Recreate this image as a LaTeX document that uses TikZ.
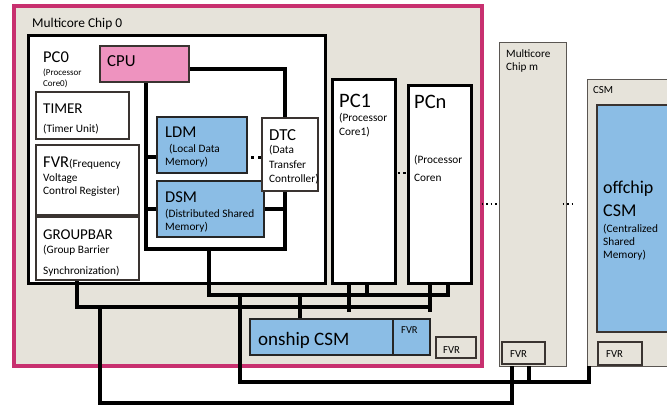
\documentclass[tikz,border=0pt]{standalone}
\usepackage{fontspec}
\setmainfont{Carlito}
\pgfdeclarelayer{back}
\pgfdeclarelayer{wires}
\pgfsetlayers{back,wires,main}
\definecolor{beige}{HTML}{E6E3DA}
\definecolor{chippink}{HTML}{C8306F}
\definecolor{cpupink}{HTML}{EE93BF}
\definecolor{memblue}{HTML}{8BBDE5}
\definecolor{edge}{HTML}{3A3431}
\definecolor{thingray}{HTML}{5A5652}
\newcommand\fsz[1]{\fontsize{#1}{#1}\selectfont}
\begin{document}
\begin{tikzpicture}[x=1pt,y=-1pt,
  bx/.style={inner sep=0pt, outer sep=0pt, anchor=north west},
  corebox/.style={bx, draw=black, line width=3pt, fill=white},
  thinbox/.style={bx, draw=edge, line width=1.2pt, fill=white},
  membox/.style={bx, draw=black!85, line width=1.2pt, fill=memblue},
  fvrbox/.style={bx, draw=edge, line width=1.6pt, fill=beige},
  chipbox/.style={bx, draw=thingray, line width=0.9pt, fill=beige},
  lbl/.style={inner sep=0pt, anchor=base west, text=black},
  bigtxt/.style={lbl, font=\fsz{16.5}},
  smtxt/.style={lbl, font=\fsz{11.3}},
  bus/.style={line width=3.5pt, black},
]
\useasboundingbox (0,0) rectangle (667,407);

% ---------- back layer: outer boxes ----------
\begin{pgfonlayer}{back}
\node[bx, draw=chippink, line width=4pt, fill=beige, minimum width=468pt, minimum height=359.5pt] (chip0) at (14,6) {};
\node[corebox, minimum width=297pt, minimum height=248.5pt] (pc0) at (28.5,35) {};
\node[corebox, minimum width=63pt, minimum height=204pt] (pc1) at (332.5,79.5) {};
\node[corebox, minimum width=63.5pt, minimum height=198.5pt] (pcn) at (408,85) {};
\node[chipbox, minimum width=67.5pt, minimum height=323.5pt] (chipm) at (499,42.5) {};
\node[chipbox, minimum width=100pt, minimum height=287pt] (csm) at (587,79) {};
\end{pgfonlayer}

% ---------- main layer: inner boxes ----------
\node[bx, draw=edge, line width=1.2pt, fill=cpupink, minimum width=89pt, minimum height=36pt] (cpu) at (100,46) {};
\node[thinbox, minimum width=93pt, minimum height=47pt] (timer) at (36,92) {};
\node[thinbox, minimum width=103pt, minimum height=70pt] (fvr) at (36,145) {};
\node[thinbox, minimum width=103pt, minimum height=63pt] (groupbar) at (36,217) {};
\node[membox, minimum width=90pt, minimum height=56pt] (ldm) at (157,117) {};
\node[membox, minimum width=107pt, minimum height=56pt] (dsm) at (157,181) {};
\node[thinbox, minimum width=56pt, minimum height=73pt] (dtc) at (262,118) {};
\node[membox, minimum width=143pt, minimum height=36pt] (onship) at (250,319) {};
\node[membox, minimum width=37pt, minimum height=36pt] (onfvr) at (393,319) {};
\node[fvrbox, minimum width=40pt, minimum height=21pt] (fvrzero) at (436,337) {};
\node[fvrbox, minimum width=43pt, minimum height=22pt] (fvrm) at (502,342) {};
\node[membox, draw=edge, minimum width=90pt, minimum height=227pt] (offchip) at (597,105) {};
\node[fvrbox, minimum width=44pt, minimum height=23pt] (fvrc) at (598,342) {};

% ---------- texts ----------
\node[lbl, font=\fsz{13.4}] (tchip0) at (32,27) {Multicore Chip 0};
\node[bigtxt] (tpc0) at (43,62) {PC0};
\node[lbl, font=\fsz{9}] (tpc0a) at (43,75) {(Processor};
\node[lbl, font=\fsz{9}] (tpc0b) at (43,86) {Core0)};
\node[bigtxt, font=\fsz{16.8}] (tcpu) at (107,66) {CPU};
\node[lbl, font=\fsz{15}] (ttimer) at (43,113) {TIMER};
\node[smtxt] (ttimera) at (43,132) {(Timer Unit)};
\node[lbl] (tfvr) at (43,167) {\fsz{16.5}FVR\fsz{11.3}(Frequency};
\node[smtxt] (tfvra) at (43,181) {Voltage};
\node[smtxt] (tfvrb) at (43,194) {Control Register)};
\node[lbl, font=\fsz{15}] (tgb) at (43,239) {GROUPBAR};
\node[smtxt] (tgba) at (43,253) {(Group Barrier};
\node[smtxt] (tgbb) at (43,274) {Synchronization)};
\node[bigtxt] (tldm) at (165,137) {LDM};
\node[smtxt] (tldma) at (169,152) {(Local Data};
\node[smtxt] (tldmb) at (165,165) {Memory)};
\node[bigtxt] (tdsm) at (165,202) {DSM};
\node[smtxt] (tdsma) at (165,217) {(Distributed Shared};
\node[smtxt] (tdsmb) at (165,230) {Memory)};
\node[bigtxt, font=\fsz{16.8}] (tdtc) at (269,140) {DTC};
\node[smtxt] (tdtca) at (269,153) {(Data};
\node[smtxt] (tdtcb) at (269,168) {Transfer};
\node[smtxt] (tdtcc) at (269,182) {Controller)};
\node[lbl, font=\fsz{20.5}] (tpc1) at (339,107) {PC1};
\node[smtxt] (tpc1a) at (339,121) {(Processor};
\node[smtxt] (tpc1b) at (339,135) {Core1)};
\node[lbl, font=\fsz{20.5}] (tpcn) at (414,108) {PCn};
\node[smtxt] (tpcna) at (414,163) {(Processor};
\node[smtxt] (tpcnb) at (414,181) {Coren};
\node[lbl, font=\fsz{11.2}] (tchipm) at (506,57) {Multicore};
\node[lbl, font=\fsz{11.2}] (tchipmb) at (506,70) {Chip m};
\node[lbl, font=\fsz{10.8}] (tcsm) at (593,93) {CSM};
\node[lbl, font=\fsz{18}] (toff) at (603,193) {offchip};
\node[lbl, font=\fsz{18}] (toffb) at (603,216) {CSM};
\node[smtxt] (toffc) at (603,232) {(Centralized};
\node[smtxt] (toffd) at (603,245) {Shared};
\node[smtxt] (toffe) at (603,258) {Memory)};
\node[lbl, font=\fsz{19}] (tonship) at (258,345) {onship CSM};
\node[lbl, font=\fsz{10.5}] (tonfvr) at (401,333) {FVR};
\node[lbl, font=\fsz{10.7}] (tfvrzero) at (443,353) {FVR};
\node[lbl, font=\fsz{10.7}] (tfvrm) at (510,357) {FVR};
\node[lbl, font=\fsz{10.7}] (tfvrc) at (606,357) {FVR};

% ---------- wires ----------
\begin{pgfonlayer}{wires}
\coordinate (ba) at (146,249);
\coordinate (bb) at (285,249);
\coordinate (bc) at (285,69);
\draw[bus] (cpu.south -| ba) -- (ba) -- (bb) -- (bc) -- (cpu.east |- bc);
\coordinate (lj) at (146,157);
\draw[bus] (lj) -- (lj -| ldm.west);
\draw[bus] (dsm.west -| ba) -- (dsm.west);
\draw[bus] (dsm.east) -- (dsm.east -| bb);
% first chip bus
\coordinate (p0) at (209,295);
\coordinate (q1) at (448,295);
\coordinate (q2) at (367,295);
\draw[bus] (ba -| p0) -- (p0) -- (q1) -- (q1 |- pcn.south);
\draw[bus] (q2) -- (q2 |- pc1.south);
% second chip bus
\coordinate (r0) at (77,307);
\coordinate (r1) at (430,307);
\coordinate (r2) at (349,307);
\draw[bus] (groupbar.south -| r0) -- (r0) -- (r1);
\draw[bus] (r1 |- pcn.south) -- (r1) -- ++(0,5);
\draw[bus] (r2 |- pc1.south) -- (r2) -- ++(0,5);
\coordinate (s0) at (300,295);
\draw[bus] (s0) -- (s0 |- onship.north);
% off-chip links
\coordinate (t0) at (240,295);
\coordinate (t1) at (240,382);
\coordinate (t2) at (589,382);
\coordinate (t3) at (529,382);
\draw[bus] (t0) -- (t1) -- (t2) -- (t2 |- csm.south);
\draw[bus] (t3) -- (t3 |- chipm.south);
\coordinate (u0) at (100,307);
\coordinate (u1) at (100,403);
\coordinate (u2) at (512,403);
\draw[bus] (u0) -- (u1) -- (u2) -- (u2 |- chipm.south);
\end{pgfonlayer}

% ---------- dots ----------
\draw[line width=3pt, dash pattern=on 3pt off 4pt] ([xshift=4pt]ldm.east |- lj) -- (dtc.west |- lj);
\coordinate (dd) at (397.7,173);
\draw[line width=2.5pt, dash pattern=on 2.5pt off 3pt] (dd) -- (dd -| pcn.west);
\coordinate (de) at (481.7,204);
\draw[line width=1.4pt, dash pattern=on 1.4pt off 3.1pt] (de) -- ++(16,0);
\coordinate (df) at (562.7,204);
\draw[line width=1.4pt, dash pattern=on 1.4pt off 3.1pt] (df) -- ++(11.5,0);
\end{tikzpicture}
\end{document}
